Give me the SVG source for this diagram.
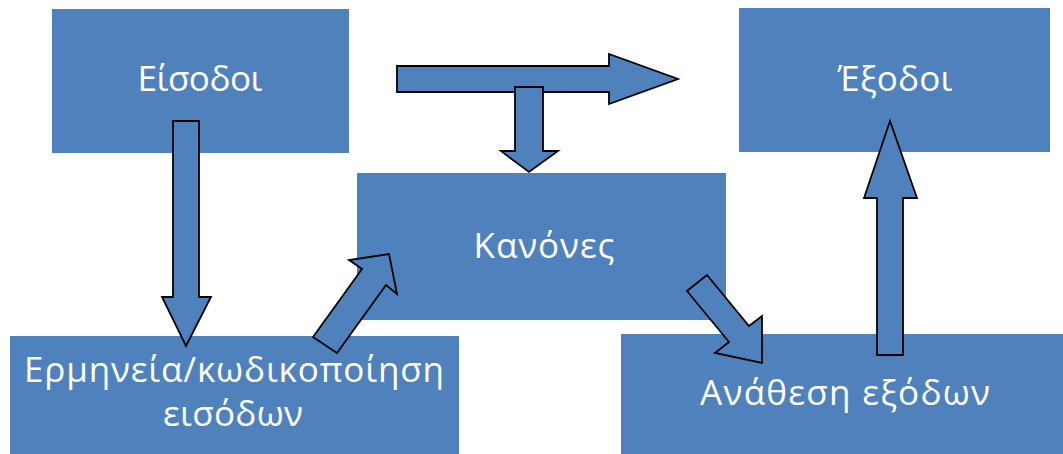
<svg xmlns="http://www.w3.org/2000/svg" width="1063" height="454" viewBox="0 0 1063 454">
  <style>
    .box { fill: #4F81BD; }
    .lbl { fill: #FFFFFF; font-family: "Open Sans", "Noto Sans", "DejaVu Sans", sans-serif; font-size: 35px; text-anchor: middle; }
    .arrow { fill: #4F81BD; stroke: #000000; stroke-width: 1.8; stroke-linejoin: miter; }
  </style>
  <rect width="1063" height="454" fill="#FFFFFF"/>

  <!-- process blocks -->
  <g id="inputs">
    <rect class="box" x="52" y="9" width="297" height="144"/>
    <text class="lbl" x="200" y="91" textLength="125">Είσοδοι</text>
  </g>
  <g id="outputs">
    <rect class="box" x="739" y="8" width="311" height="144"/>
    <text class="lbl" x="895" y="91" textLength="115">Έξοδοι</text>
  </g>
  <g id="rules">
    <rect class="box" x="357" y="173" width="369" height="147"/>
    <text class="lbl" x="544" y="258" textLength="141">Κανόνες</text>
  </g>
  <g id="encode">
    <rect class="box" x="10" y="336" width="449" height="118"/>
    <text class="lbl" x="234" y="382" textLength="420">Ερμηνεία/κωδικοποίηση</text>
    <text class="lbl" x="233" y="426" textLength="140">εισόδων</text>
  </g>
  <g id="assign">
    <rect class="box" x="621" y="334" width="442" height="120"/>
    <text class="lbl" x="845" y="405" textLength="290">Ανάθεση εξόδων</text>
  </g>

  <!-- block arrows -->
  <g id="connectors">
    <polygon class="arrow" points="173,121 199,121 199,297 211,297 186,346 162,297 173,297"/>
    <polygon class="arrow" points="397,66 609,66 609,54 678,79 609,104 609,92 397,92"/>
    <polygon class="arrow" points="515,87 543,87 543,151 558,151 529,172 501,151 515,151"/>
    <polygon class="arrow" points="313,337 362,269 349,260 389,254 397,294 386,285 337,353"/>
    <polygon class="arrow" points="707,275 749,326 762,316 762,363 715,353 729,342 687,291"/>
    <polygon class="arrow" points="877,355 877,198 864,198 890,121 917,198 903,198 903,355"/>
  </g>
</svg>
